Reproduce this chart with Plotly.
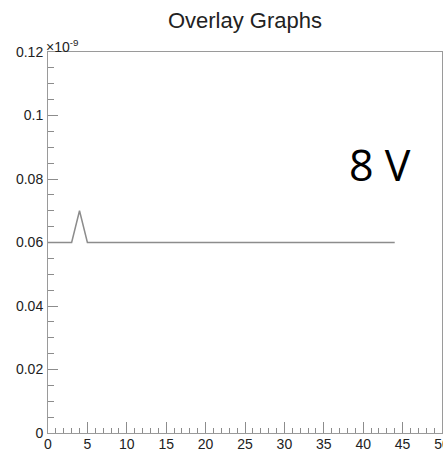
import plotly.graph_objects as go

x_vals = list(range(0, 45))
y_vals = [0.06] * 45
y_vals[4] = 0.07  # peak at x=4 (units of 1e-9)

x_ticks = [0, 5, 10, 15, 20, 25, 30, 35, 40, 45, 50]
y_ticks = [0, 0.02, 0.04, 0.06, 0.08, 0.1, 0.12]
y_tick_text = ["0", "0.02", "0.04", "0.06", "0.08", "0.1", "0.12"]

fig = go.Figure()
fig.add_trace(go.Scatter(x=x_vals, y=y_vals, mode="lines",
                         line=dict(color="#8c8c8c", width=1.5), showlegend=False))

axis_common = dict(showgrid=False, zeroline=False, showline=True, linecolor="#9a9a9a",
                   linewidth=1, mirror=True, ticks="inside", tickcolor="#8c8c8c",
                   ticklabeloverflow="allow", automargin=False,
                   tickfont=dict(family="Liberation Sans, Arial", size=14, color="#222"))

fig.update_xaxes(range=[0, 50], tickvals=x_ticks, ticklen=11, ticklabelstandoff=-2,
                 minor=dict(dtick=1, ticks="inside", ticklen=5, tickcolor="#8c8c8c"),
                 **axis_common)
fig.update_yaxes(range=[0, 0.12], tickvals=y_ticks, ticktext=y_tick_text, ticklen=10,
                 ticklabelstandoff=1,
                 minor=dict(dtick=0.005, ticks="inside", ticklen=6, tickcolor="#8c8c8c"),
                 **axis_common)

fig.update_layout(
    width=443, height=451,
    margin=dict(l=48, r=1, t=52, b=18),
    plot_bgcolor="white", paper_bgcolor="white",
    title=dict(text="Overlay Graphs", x=0.553, xanchor="center", y=0.956, yanchor="middle",
               font=dict(family="Liberation Sans, Arial", size=22, color="#222")),
    annotations=[
        dict(text="×10<sup>-9</sup>", xref="paper", yref="paper", x=0, y=1,
             xanchor="left", yanchor="bottom", showarrow=False, yshift=-5, xshift=-4,
             font=dict(family="Liberation Sans, Arial", size=14, color="#222")),
        dict(text="8 V", xref="paper", yref="paper", x=0.926, y=0.705,
             xanchor="right", yanchor="middle", showarrow=False,
             font=dict(family="Open Sans, Noto Sans", size=43, color="black")),
    ],
)

fig.write_html("out.html")
